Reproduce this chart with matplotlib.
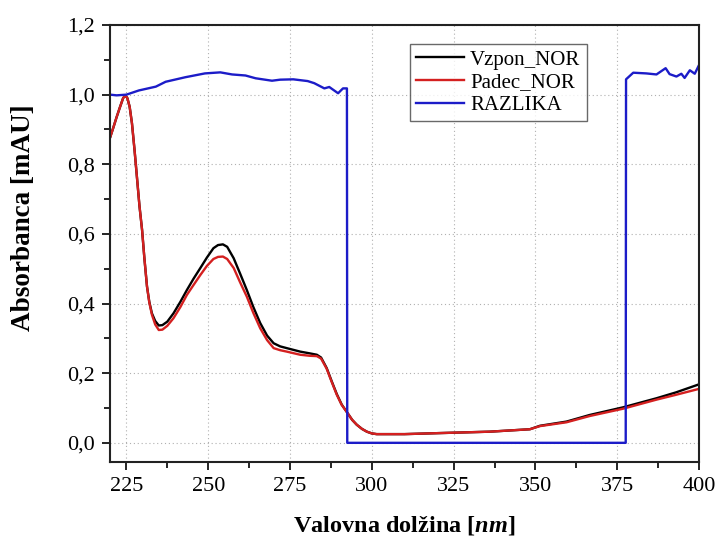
import numpy as np
import matplotlib.pyplot as plt
from matplotlib.ticker import MultipleLocator, FuncFormatter

plt.rcParams['font.family'] = 'Liberation Serif'
plt.rcParams['mathtext.fontset'] = 'custom'
plt.rcParams['mathtext.it'] = 'Liberation Serif:italic:bold'
plt.rcParams['mathtext.rm'] = 'Liberation Serif:bold'

# Vzpon_NOR / Padec_NOR (valovna dolzina v nm)
wl = [220.1, 221.0, 222.0, 223.0, 224.0, 224.7, 225.3, 226.0, 226.7, 227.5, 228.3,
      229.0, 229.8, 230.5, 231.3, 232.0, 232.8, 233.8, 234.9, 236.0, 237.5, 239.4,
      241.5, 243.5, 245.5, 247.6, 249.6, 251.6, 253.0, 254.5, 255.8, 257.8, 259.8,
      261.8, 263.8, 265.9, 268.0, 270.0, 272.0, 274.0, 278.1, 281.0, 283.2, 284.5,
      286.2, 287.7, 289.3, 290.8, 292.4, 294.0, 295.4, 297.0, 298.5, 300.0, 301.5,
      310.0, 320.8, 336.0, 348.3, 351.4, 359.5, 366.6, 376.8, 387.0, 393.0, 400.0]
vzpon = [0.879, 0.905, 0.935, 0.963, 0.990, 0.998, 0.990, 0.965, 0.918, 0.840, 0.755,
         0.680, 0.611, 0.530, 0.449, 0.405, 0.372, 0.350, 0.337, 0.338, 0.348, 0.372,
         0.405, 0.439, 0.471, 0.502, 0.532, 0.559, 0.568, 0.570, 0.563, 0.530, 0.485,
         0.439, 0.390, 0.344, 0.308, 0.286, 0.277, 0.272, 0.262, 0.257, 0.253, 0.245,
         0.215, 0.178, 0.140, 0.110, 0.088, 0.066, 0.052, 0.040, 0.032, 0.027, 0.025,
         0.025, 0.028, 0.032, 0.039, 0.049, 0.061, 0.080, 0.102, 0.128, 0.145, 0.168]
padec = [0.879, 0.905, 0.935, 0.963, 0.990, 0.998, 0.990, 0.965, 0.918, 0.840, 0.755,
         0.680, 0.611, 0.530, 0.449, 0.403, 0.368, 0.340, 0.324, 0.325, 0.336, 0.358,
         0.390, 0.425, 0.453, 0.482, 0.508, 0.528, 0.534, 0.535, 0.528, 0.502, 0.460,
         0.420, 0.373, 0.329, 0.295, 0.272, 0.266, 0.262, 0.253, 0.250, 0.249, 0.242,
         0.213, 0.176, 0.138, 0.109, 0.088, 0.066, 0.052, 0.040, 0.032, 0.027, 0.025,
         0.025, 0.028, 0.032, 0.039, 0.048, 0.059, 0.077, 0.098, 0.124, 0.138, 0.155]

# RAZLIKA
wl_raz = [220.0, 222.0, 225.0, 228.8, 234.0, 237.0, 243.0, 249.0, 253.7, 257.3, 261.4,
          264.5, 269.5, 272.0, 276.0, 280.4, 282.4, 285.5, 287.0, 289.7, 291.2, 292.4,
          292.5, 377.6, 377.7, 379.9, 383.9, 387.0, 389.8, 391.0, 393.1, 394.6, 395.6,
          397.2, 398.7, 400.0]
razlika = [1.000, 0.998, 1.000, 1.012, 1.023, 1.037, 1.050, 1.061, 1.064, 1.058, 1.055,
           1.047, 1.040, 1.043, 1.044, 1.039, 1.033, 1.018, 1.022, 1.004, 1.018, 1.018,
           0.000, 0.000, 1.044, 1.063, 1.061, 1.058, 1.076, 1.059, 1.052, 1.060, 1.048,
           1.070, 1.060, 1.085]

fig = plt.figure(figsize=(7.21, 5.39), dpi=100)
ax = fig.add_axes([0.1526, 0.1429, 0.8169, 0.8107])

ax.plot(wl, vzpon, color='black', lw=1.7, label='Vzpon_NOR')
ax.plot(wl, padec, color='#d42020', lw=1.7, label='Padec_NOR')
ax.plot(wl_raz, razlika, color='#1c1cc8', lw=1.7, label='RAZLIKA')

ax.set_xlim(220, 400)
ax.set_ylim(-0.055, 1.2)
ax.xaxis.set_minor_locator(MultipleLocator(12.5))
ax.set_xticks(np.arange(225, 401, 25))
ax.yaxis.set_major_locator(MultipleLocator(0.2))
ax.yaxis.set_minor_locator(MultipleLocator(0.1))
ax.yaxis.set_major_formatter(FuncFormatter(lambda v, p: f"{v:.1f}".replace('.', ',')))

ax.grid(True, which='major', color='#b0b0b0', linestyle=(0, (1, 2.5)), lw=0.8)
ax.tick_params(which='both', direction='out', top=False, right=False, labelsize=16)
ax.tick_params(which='major', length=6, width=1.2, pad=5)
ax.tick_params(which='minor', length=4, width=1.2)
for s in ax.spines.values():
    s.set_linewidth(1.5)
    s.set_color('#222222')

ax.set_xlabel(r"Valovna dolžina [$\mathit{nm}$]", fontsize=17.5, fontweight='bold', labelpad=13)
ax.set_ylabel("Absorbanca [mAU]", fontsize=19.5, fontweight='bold')
ax.yaxis.set_label_coords(-0.125, 0.558)

leg = ax.legend(loc='upper left', bbox_to_anchor=(0.509, 0.957), fontsize=15,
                frameon=True, fancybox=False, edgecolor='#444444', handlelength=2.3,
                borderpad=0.3, labelspacing=0.15, handletextpad=0.3, borderaxespad=0)
leg.get_frame().set_linewidth(1.0)

fig.savefig('out.png', dpi=100)
